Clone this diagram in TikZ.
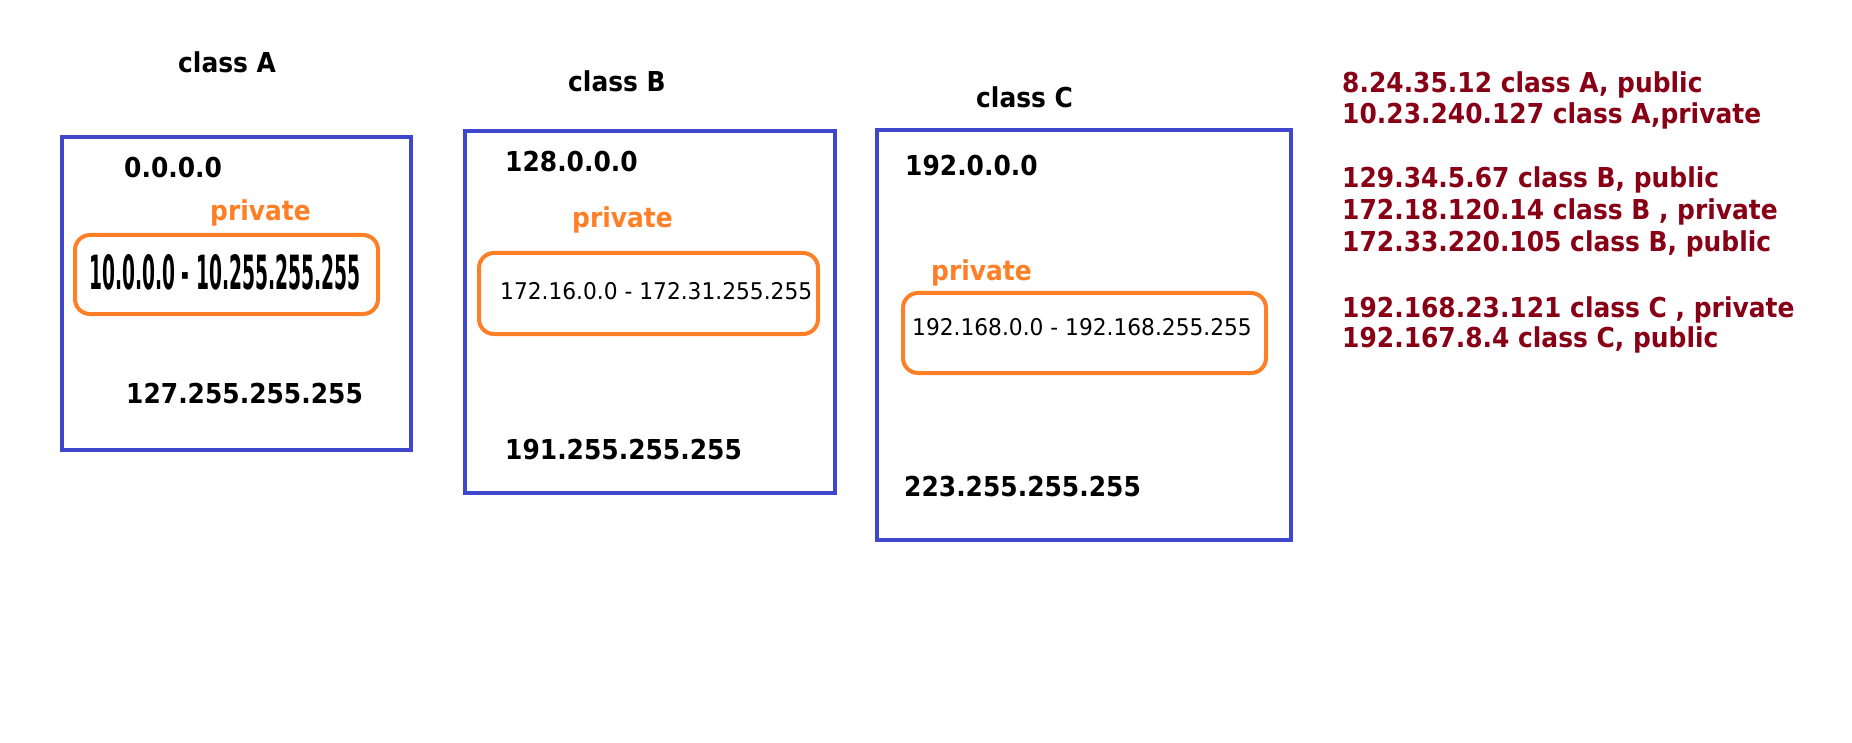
\documentclass[tikz,border=0pt]{standalone}
\usepackage{fontspec}
\setmainfont{DejaVu Sans}[FakeStretch=0.91]
\newfontfamily\rangefont{DejaVu Sans}[FakeStretch=0.945]
\usepackage{tikz}
\definecolor{indigo}{HTML}{3F48CC}
\definecolor{paintorange}{HTML}{FF7F27}
\definecolor{darkred}{HTML}{880015}

\tikzset{
  classbox/.style={draw=indigo,line width=4pt,inner sep=0},
  privbox/.style={draw=paintorange,line width=4pt,rounded corners=15pt,inner sep=0},
  addr/.style={anchor=base west,inner sep=0,font=\bfseries\fontsize{27.4}{30}\selectfont},
  privlabel/.style={addr,text=paintorange},
  rangetext/.style={anchor=base west,inner sep=0,font=\rangefont\fontsize{23}{26}\selectfont},
  example/.style={addr,text=darkred}
}

\begin{document}
\begin{tikzpicture}[x=1pt,y=-1pt]
  \useasboundingbox (0,0) rectangle (1852,743);
  %class A
  \node[classbox,minimum width=349,minimum height=313] (boxA) at (236.5,293.5) {};
  \node[addr] (titleA) at (178,73) {class A};
  \node[addr] (startA) at (124,178) {0.0.0.0};
  \node[privlabel] (privA) at (210,221) {private};
  \node[privbox,minimum width=303,minimum height=79] (rangeboxA) at (226.5,274.5) {};
  \node[anchor=base west,inner sep=0] (rangeA) at (89,290)
    {\resizebox{271pt}{35pt}{\bfseries 10.0.0.0 - 10.255.255.255}};
  \node[addr] (endA) at (126,403) {127.255.255.255};
  %class B
  \node[classbox,minimum width=370,minimum height=362] (boxB) at (650,312) {};
  \node[addr] (titleB) at (568,92) {class B};
  \node[addr] (startB) at (505,172) {128.0.0.0};
  \node[privlabel] (privB) at (572,228) {private};
  \node[privbox,minimum width=339,minimum height=81] (rangeboxB) at (648.5,293.5) {};
  \node[rangetext] (rangeB) at (500,299) {172.16.0.0 - 172.31.255.255};
  \node[addr] (endB) at (505,459) {191.255.255.255};
  %class C
  \node[classbox,minimum width=414,minimum height=410] (boxC) at (1084,335) {};
  \node[addr] (titleC) at (976,108) {class C};
  \node[addr] (startC) at (905,176) {192.0.0.0};
  \node[privlabel] (privC) at (931,281) {private};
  \node[privbox,minimum width=363,minimum height=80] (rangeboxC) at (1084.5,333) {};
  \node[rangetext] (rangeC) at (912,335) {192.168.0.0 - 192.168.255.255};
  \node[addr] (endC) at (904,496) {223.255.255.255};
  %examples
  \node[example] (ex1) at (1342,93) {8.24.35.12 class A, public};
  \node[example] (ex2) at (1342,124) {10.23.240.127 class A,private};
  \node[example] (ex3) at (1342,188) {129.34.5.67 class B, public};
  \node[example] (ex4) at (1342,220) {172.18.120.14 class B , private};
  \node[example] (ex5) at (1342,252) {172.33.220.105 class B, public};
  \node[example] (ex6) at (1342,317) {192.168.23.121 class C , private};
  \node[example] (ex7) at (1342,347) {192.167.8.4 class C, public};
\end{tikzpicture}
\end{document}
